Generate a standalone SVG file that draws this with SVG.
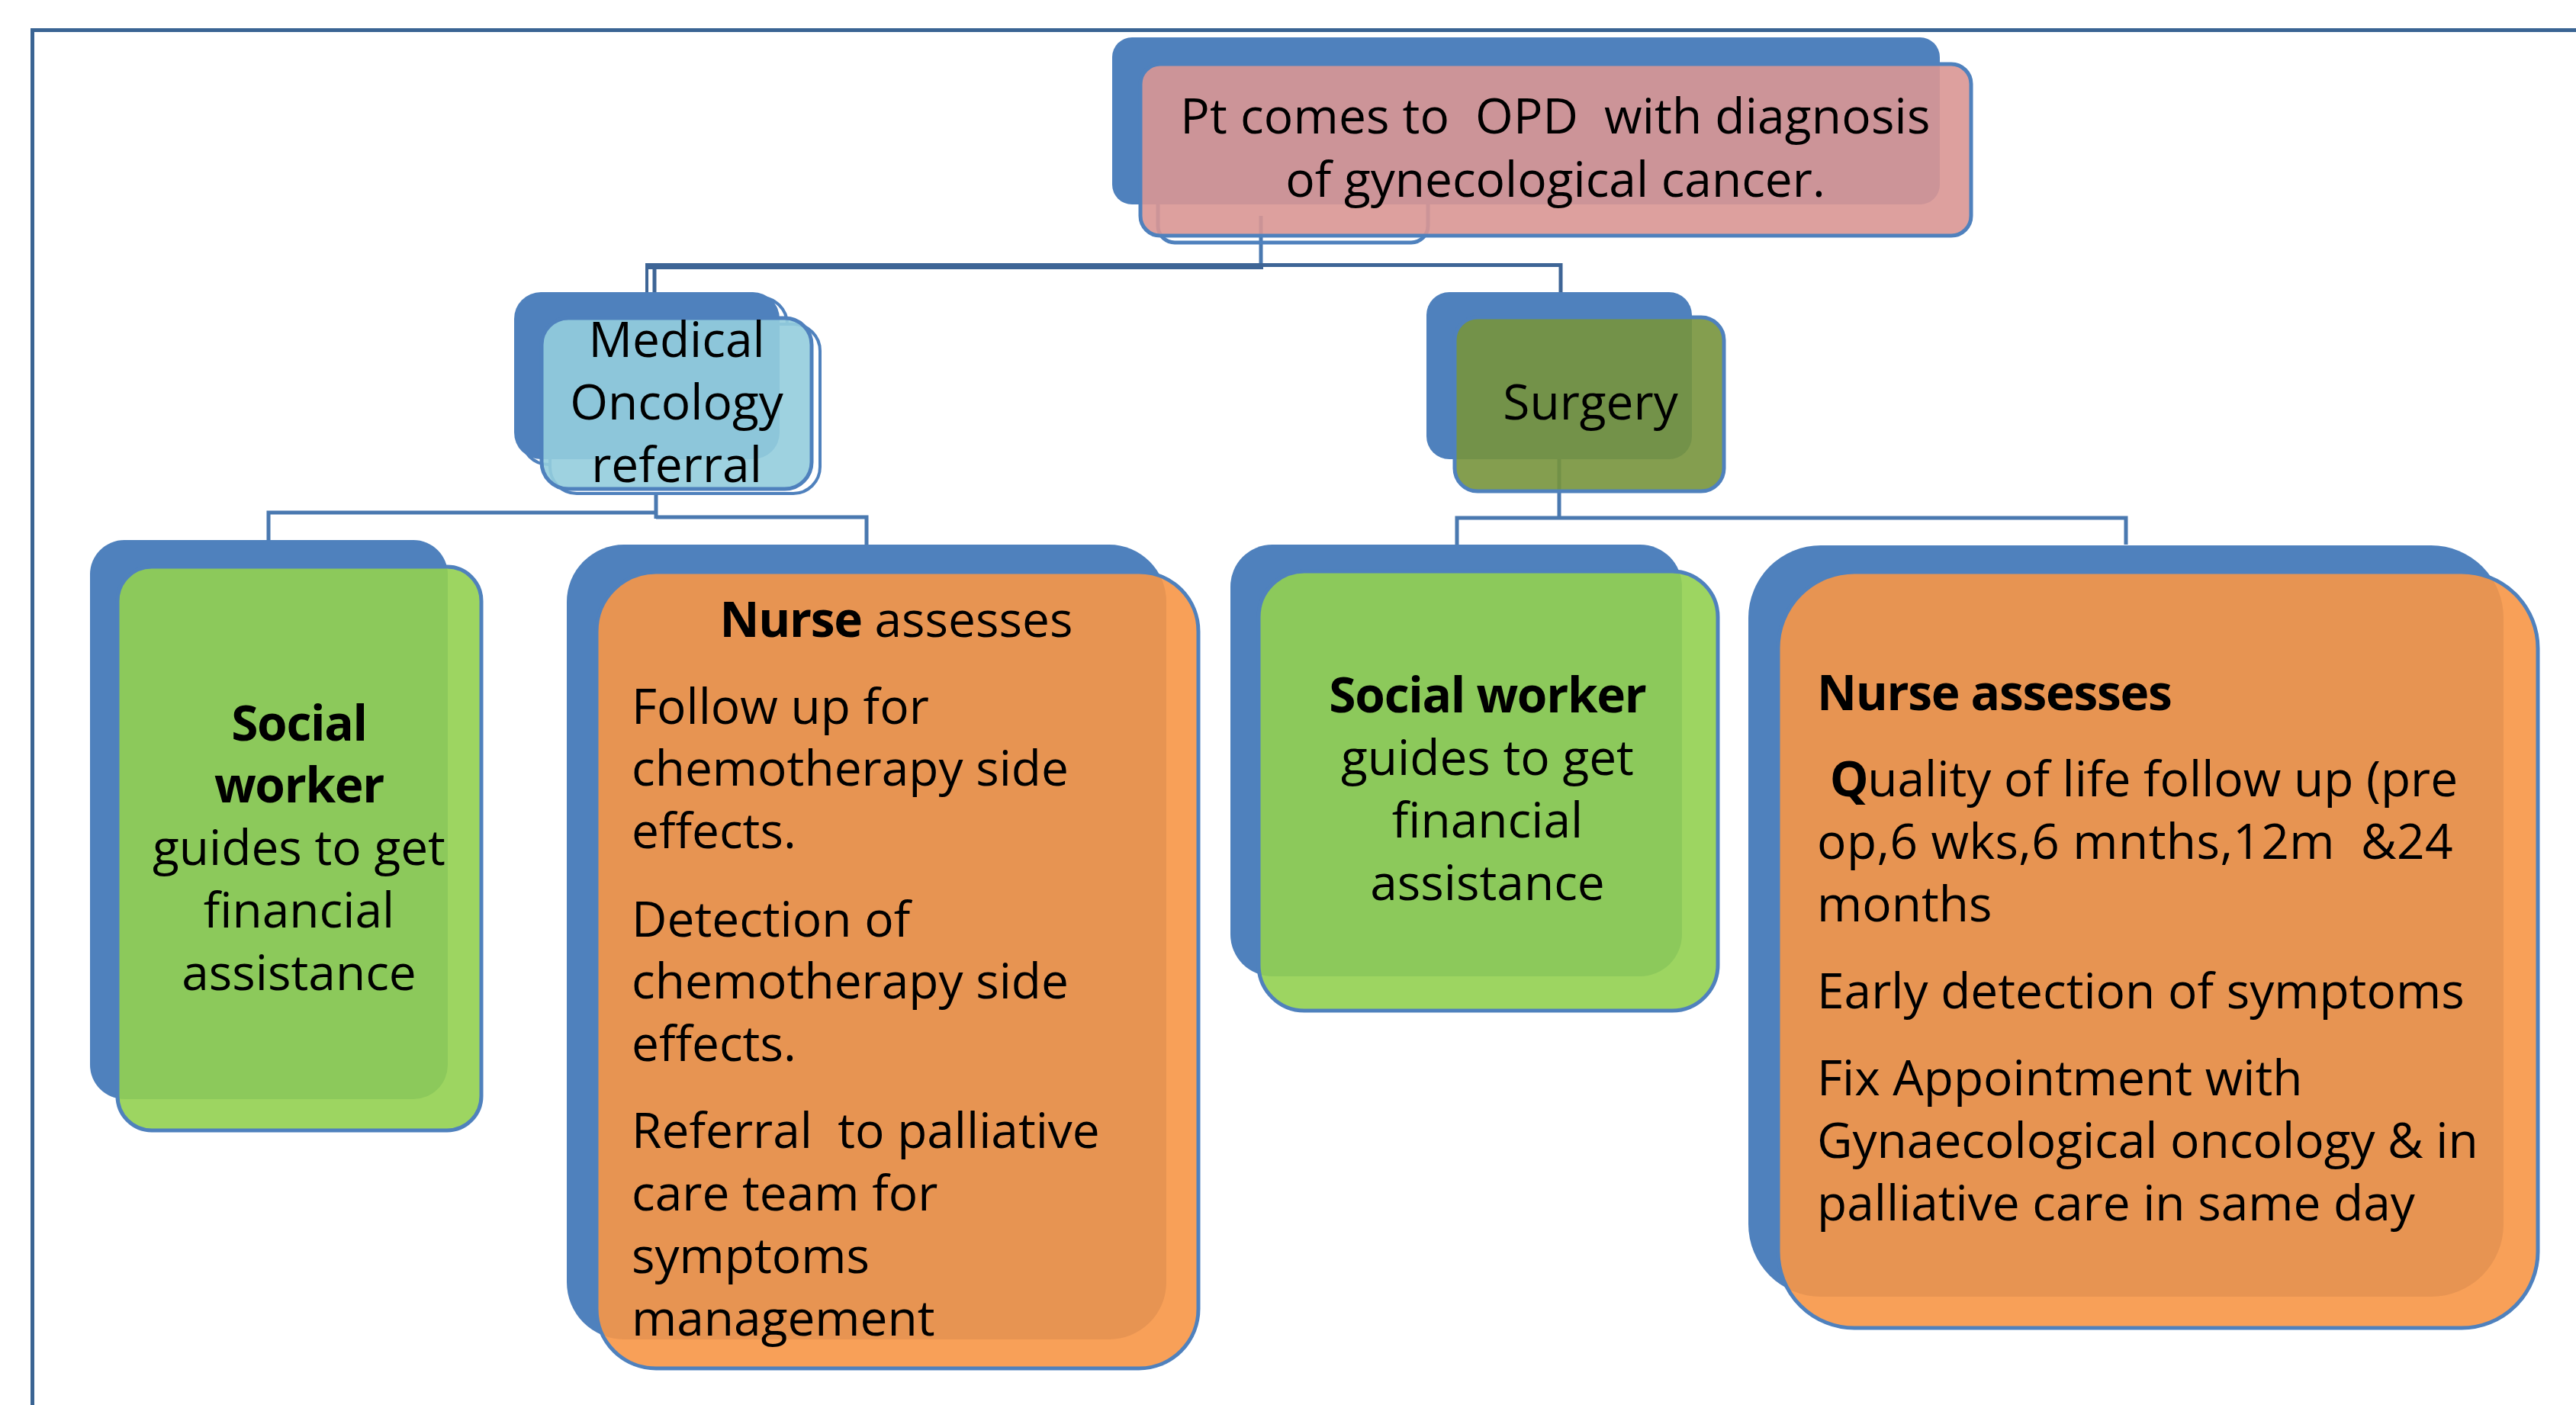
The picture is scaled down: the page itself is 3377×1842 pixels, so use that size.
<svg xmlns="http://www.w3.org/2000/svg" width="3377" height="1842" viewBox="0 0 3377 1842">
<style>
  .frame{fill:none;stroke:#3A6493;stroke-width:5}
  .conn{fill:none;stroke:#4A79B0;stroke-width:5}
  .connd{fill:none;stroke:#3E6596}
  .back{fill:#4F81BD}
  .ghost{fill:#FFFFFF;stroke:#4F81BD;stroke-width:4}
  .front{stroke:#4F81BD;stroke-width:5;fill-opacity:0.9}
  .pink{fill:#D99694}
  .aqua{fill:#93CDDD}
  .olive{fill:#77933C}
  .green{fill:#92D050}
  .orange{fill:#F79646}
  text{font-family:"Open Sans","Noto Sans",sans-serif;font-size:64px;fill:#000;white-space:pre}
  .c{text-anchor:middle}
  .b{font-weight:700;letter-spacing:-1.3px}
</style>
<rect width="3377" height="1842" fill="#FFFFFF"/>
<path class="frame" d="M42.5,1842 V39.5 H3377"/>
<g id="connectors">
  <path class="conn" d="M1653,283 V349"/>
  <path class="connd" stroke-width="8" d="M846,349 H1656"/>
  <path class="connd" stroke-width="5" d="M1653,347.5 H2046 V390"/>
  <path class="connd" stroke-width="4" d="M848,345 V385"/>
  <path class="connd" stroke-width="5" d="M858,352 V385"/>
  <path class="conn" d="M860,600 V680"/>
  <path class="conn" d="M860,672 H352 V710"/>
  <path class="conn" d="M860,678 H1136 V716"/>
  <path class="conn" d="M2044,600 V679"/>
  <path class="conn" d="M1910,714 V679 H2787 V714"/>
</g>
<g id="node-opd">
  <rect x="1518" y="230" width="354" height="88" rx="22" fill="none" stroke="#4F81BD" stroke-width="5"/>
  <rect class="back" x="1458" y="49" width="1085" height="219" rx="26"/>
  <rect class="front pink" x="1495" y="84" width="1089" height="225" rx="26"/>
  <text class="c" x="2039" y="175" letter-spacing="0.2">Pt comes to  OPD  with diagnosis</text>
  <text class="c" x="2039" y="258">of gynecological cancer.</text>
</g>
<g id="node-medical-oncology">
  <rect class="ghost" x="684" y="390" width="348" height="219" rx="35"/>
  <rect class="ghost" x="721" y="425" width="354" height="222" rx="35"/>
  <rect class="back" x="674" y="383" width="348" height="219" rx="35"/>
  <rect class="front aqua" x="710" y="417" width="354" height="224" rx="35"/>
  <text class="c" x="887" y="468">Medical</text>
  <text class="c" x="887" y="550">Oncology</text>
  <text class="c" x="887" y="632">referral</text>
</g>
<g id="node-surgery">
  <rect class="back" x="1870" y="383" width="348" height="219" rx="30"/>
  <rect class="front olive" x="1907" y="416" width="353" height="228" rx="30"/>
  <text class="c" x="2085" y="550">Surgery</text>
</g>
<g id="node-social-worker-1">
  <rect class="back" x="118" y="708" width="469" height="733" rx="45"/>
  <rect class="front green" x="154" y="743" width="477" height="739" rx="45"/>
  <text class="c b" x="392" y="971">Social</text>
  <text class="c b" x="392" y="1052">worker</text>
  <text class="c" x="392" y="1134">guides to get</text>
  <text class="c" x="392" y="1216">financial</text>
  <text class="c" x="392" y="1298">assistance</text>
</g>
<g id="node-nurse-1">
  <rect class="back" x="743" y="714" width="786" height="1042" rx="75"/>
  <rect class="front orange" x="782" y="750" width="789" height="1044" rx="78"/>
  <text class="c" x="1175" y="835"><tspan class="b">Nurse</tspan> assesses</text>
  <text x="828" y="949">Follow up for</text>
  <text x="828" y="1030">chemotherapy side</text>
  <text x="828" y="1112">effects.</text>
  <text x="828" y="1228">Detection of</text>
  <text x="828" y="1309">chemotherapy side</text>
  <text x="828" y="1391">effects.</text>
  <text x="828" y="1505">Referral  to palliative</text>
  <text x="828" y="1587">care team for</text>
  <text x="828" y="1669">symptoms</text>
  <text x="828" y="1751">management</text>
</g>
<g id="node-social-worker-2">
  <rect class="back" x="1613" y="714" width="592" height="566" rx="55"/>
  <rect class="front green" x="1650" y="749" width="602" height="576" rx="60"/>
  <text class="c" x="1950" y="934"><tspan class="b">Social worker</tspan></text>
  <text class="c" x="1950" y="1016">guides to get</text>
  <text class="c" x="1950" y="1098">financial</text>
  <text class="c" x="1950" y="1180">assistance</text>
</g>
<g id="node-nurse-2">
  <rect class="back" x="2292" y="715" width="990" height="985" rx="95"/>
  <rect class="front orange" x="2331" y="750" width="996" height="991" rx="100"/>
  <text class="b" x="2382" y="931">Nurse assesses</text>
  <text x="2382" y="1044"> <tspan class="b">Q</tspan>uality of life follow up (pre</text>
  <text x="2382" y="1126" letter-spacing="0.4">op,6 wks,6 mnths,12m  &amp;24</text>
  <text x="2382" y="1208">months</text>
  <text x="2382" y="1322">Early detection of symptoms</text>
  <text x="2382" y="1436">Fix Appointment with</text>
  <text x="2382" y="1518">Gynaecological oncology &amp; in</text>
  <text x="2382" y="1600">palliative care in same day</text>
</g>
</svg>
